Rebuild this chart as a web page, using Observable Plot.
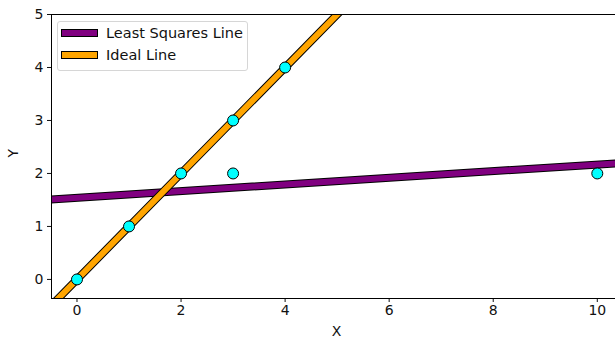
<!DOCTYPE html>
<html>
<head>
<meta charset="utf-8">
<script src="https://cdn.jsdelivr.net/npm/d3@7"></script>
<script src="https://cdn.jsdelivr.net/npm/@observablehq/plot@0.6"></script>
<style>
  html, body { margin: 0; padding: 0; background: #fff; }
  #wrap { position: relative; width: 615px; height: 338px; overflow: hidden; font-family: "DejaVu Sans", sans-serif; }
  .legend { position: absolute; left: 57px; top: 21px; width: 191px; height: 50px; box-sizing: border-box;
    border: 1px solid #d6d6d6; border-radius: 3px; background: rgba(255,255,255,0.8); font-size: 14.5px; color: #111; }
  .item { position: absolute; left: 3px; display: flex; align-items: center; }
  .swatch { width: 35px; height: 6px; border: 1px solid #000; margin-right: 8px; }
</style>
</head>
<body>
<div id="wrap"></div>
<script>
// Data points
const pointX = [0, 1, 2, 3, 4, 3, 10];
const pointY = [0, 1, 2, 3, 4, 2, 2];
// Least squares line
const lsX = [-0.5, 10.5];
const lsY = [1.51, 2.20];
// Ideal line y = x
const idealX = [-0.5, 5.5];
const idealY = [-0.5, 5.5];
// Axis limits and ticks
const xDomain = [-0.49, 10.35];
const yDomain = [-0.36, 5];
const xTicks = [0, 2, 4, 6, 8, 10];
const yTicks = [0, 1, 2, 3, 4, 5];
const xLabel = "X";
const yLabel = "Y";
const seriesNames = ["Least Squares Line", "Ideal Line"];
const seriesColors = ["#800080", "#FFA500"];

const points = pointX.map((x, i) => ({x, y: pointY[i]}));
const ls = lsX.map((x, i) => ({x, y: lsY[i]}));
const ideal = idealX.map((x, i) => ({x, y: idealY[i]}));

const chart = Plot.plot({
  width: 615,
  height: 338,
  marginLeft: 51,
  marginRight: 0,
  marginTop: 14,
  marginBottom: 40,
  style: {fontFamily: "DejaVu Sans, sans-serif", fontSize: "14px", color: "#111", background: "#fff"},
  x: {domain: xDomain, ticks: xTicks, tickSize: 4, tickPadding: 3, label: null, tickFormat: d => String(d)},
  y: {domain: yDomain, ticks: yTicks, tickSize: 4, tickPadding: 4, label: null, tickFormat: d => String(d)},
  marks: [
    Plot.line(ls, {x: "x", y: "y", stroke: "#000", strokeWidth: 8, clip: true}),
    Plot.line(ls, {x: "x", y: "y", stroke: seriesColors[0], strokeWidth: 6, clip: true}),
    Plot.line(ideal, {x: "x", y: "y", stroke: "#000", strokeWidth: 8, clip: true}),
    Plot.line(ideal, {x: "x", y: "y", stroke: seriesColors[1], strokeWidth: 6, clip: true}),
    Plot.dot(points, {x: "x", y: "y", r: 5.5, fill: "#00FFFF", stroke: "#000", strokeWidth: 1, clip: true}),
    Plot.ruleX([xDomain[0]], {stroke: "#000", strokeWidth: 1}),
    Plot.ruleY([yDomain[0]], {stroke: "#000", strokeWidth: 1}),
    Plot.ruleY([yDomain[1]], {stroke: "#000", strokeWidth: 1}),
    Plot.text([xLabel], {frameAnchor: "bottom", dx: 3, dy: 37, fontSize: 14, fill: "#111"}),
    Plot.text([yLabel], {frameAnchor: "left", dx: -38, dy: 1, rotate: -90, fontSize: 14, fill: "#111"})
  ]
});

const wrap = document.getElementById("wrap");
wrap.appendChild(chart);

const legend = document.createElement("div");
legend.className = "legend";
seriesNames.forEach((name, i) => {
  const item = document.createElement("div");
  item.className = "item";
  item.style.top = (3 + i * 22) + "px";
  const sw = document.createElement("div");
  sw.className = "swatch";
  sw.style.background = seriesColors[i];
  const label = document.createElement("span");
  label.textContent = name;
  item.appendChild(sw);
  item.appendChild(label);
  legend.appendChild(item);
});
wrap.appendChild(legend);
</script>
</body>
</html>
